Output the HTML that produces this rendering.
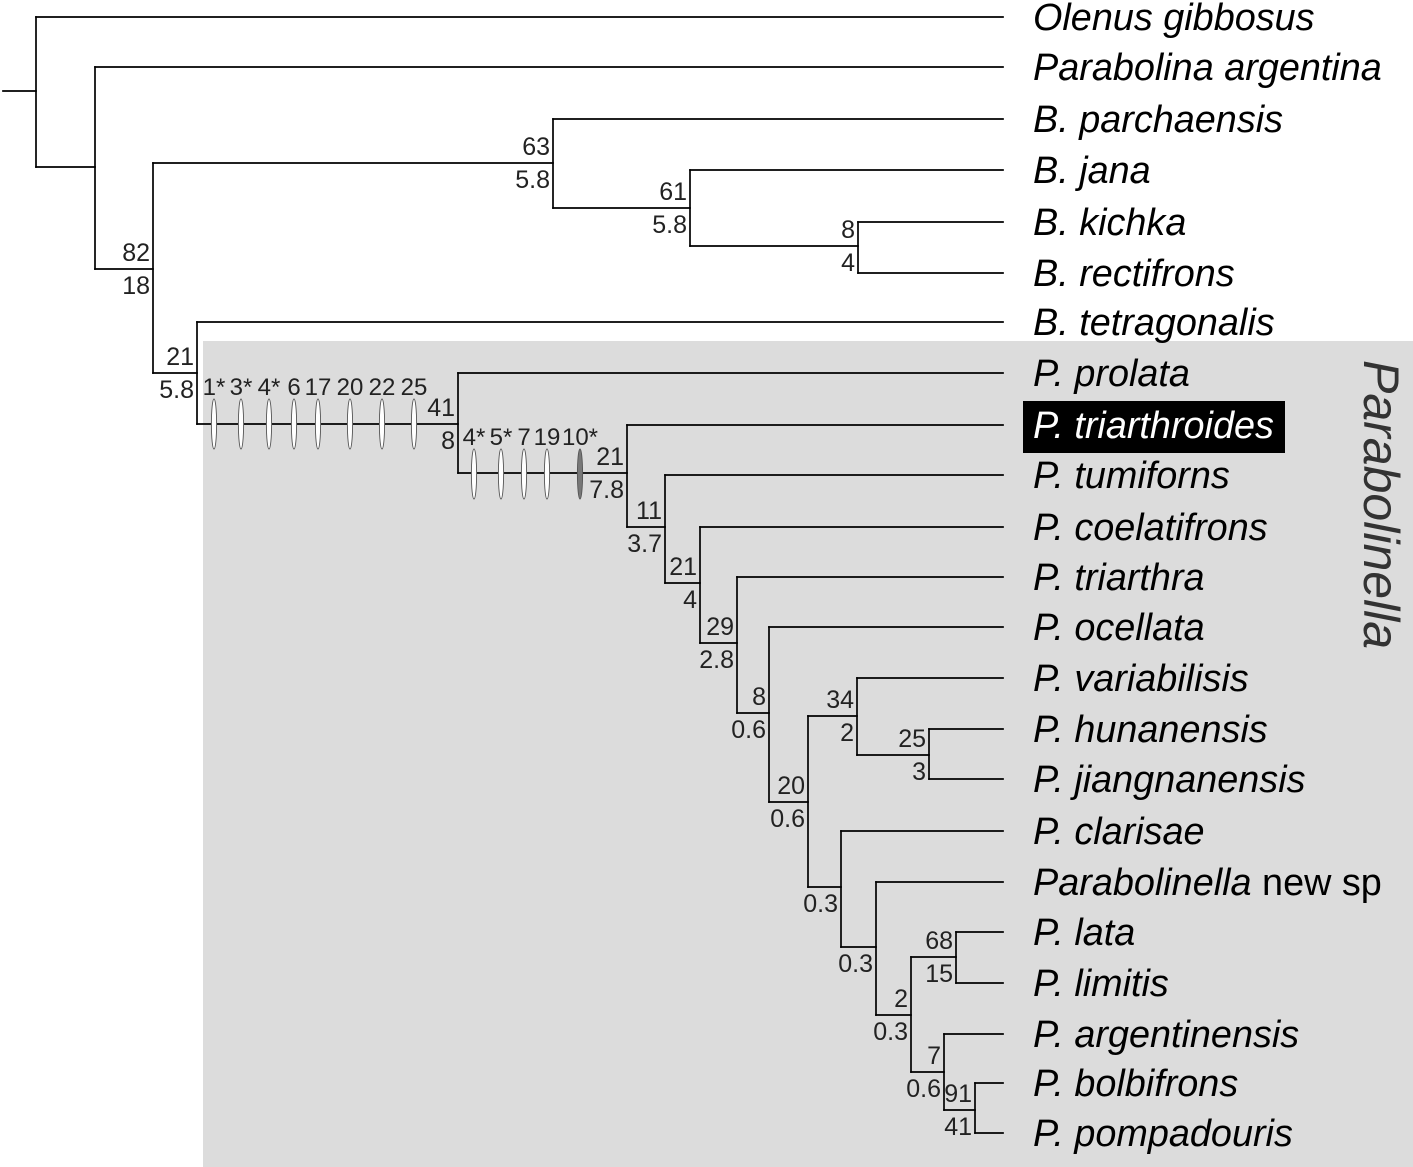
<!DOCTYPE html>
<html><head><meta charset="utf-8"><style>
html,body{margin:0;padding:0;background:#fff;}
svg{display:block;font-family:"Liberation Sans",sans-serif;}
</style></head><body>
<svg id="tree" width="1413" height="1167" viewBox="0 0 1413 1167" xmlns="http://www.w3.org/2000/svg">
<rect x="203" y="341" width="1210" height="826" fill="#dcdcdc"/>
<text transform="translate(1364,360) rotate(90)" font-size="50" font-style="italic" fill="#333">Parabolinella</text>
<rect x="1023" y="401" width="262" height="52" fill="#000"/>
<g id="g"></g>
</svg>
<script>
const leafNames=["Olenus gibbosus","Parabolina argentina","B. parchaensis","B. jana","B. kichka","B. rectifrons","B. tetragonalis","P. prolata","P. triarthroides","P. tumiforns","P. coelatifrons","P. triarthra","P. ocellata","P. variabilisis","P. hunanensis","P. jiangnanensis","P. clarisae","Parabolinella new sp","P. lata","P. limitis","P. argentinensis","P. bolbifrons","P. pompadouris"];
const leafY=[17,67,119,170,222,273,322,373,425,475,527,577,627,678,729,779,831,882,932,983,1034,1083,1133];
// nodes: [x, y-top child, y-bottom child, parent x, own y, upper label, lower label]
const nodes=[
[36,17,167,3,91,"",""],
[95,67,269,36,167,"",""],
[153,163,373,95,269,"82","18"],
[553,119,208,153,163,"63","5.8"],
[690,170,246,553,208,"61","5.8"],
[858,222,273,690,246,"8","4"],
[197,322,424,153,373,"21","5.8"],
[458,373,473,197,424,"41","8"],
[627,425,527,458,473,"21","7.8"],
[665,475,583,627,527,"11","3.7"],
[700,527,643,665,583,"21","4"],
[737,577,713,700,643,"29","2.8"],
[769,627,802,737,713,"8","0.6"],
[808,716,887,769,802,"20","0.6"],
[857,678,755,808,716,"34","2"],
[929,729,779,857,755,"25","3"],
[841,831,947,808,887,"","0.3"],
[876,882,1015,841,947,"","0.3"],
[911,957,1072,876,1015,"2","0.3"],
[956,932,983,911,957,"68","15"],
[944,1034,1110,911,1072,"7","0.6"],
[975,1083,1133,944,1110,"91","41"]
];
const leafParentX=[36,95,553,690,858,858,197,458,627,665,700,737,769,857,929,929,841,876,956,956,944,975,975];
const chars1=["1*","3*","4*","6","17","20","22","25"];
const chars1X=[214,241,269,294,318,350,382,414];
const chars2=["4*","5*","7","19","10*"];
const chars2X=[474,501,524,547,580];
const g=document.getElementById('g');
const NS="http://www.w3.org/2000/svg";
function mk(t,a){const e=document.createElementNS(NS,t);for(const k in a)e.setAttribute(k,a[k]);g.appendChild(e);return e;}
function line(x1,y1,x2,y2){return mk('line',{x1,y1,x2,y2,stroke:'#000','stroke-width':1.7,'stroke-linecap':'square'});}
leafNames.forEach((n,i)=>{
  const l=line(leafParentX[i],leafY[i],1003,leafY[i]);
  
  
  const t=mk('text',{x:1033,y:leafY[i]+13,'font-size':37.8,fill:i==8?'#fff':'#000'});
  
  
  if(n.startsWith("Parabolinella ")){
    const s=document.createElementNS(NS,'tspan');s.setAttribute('font-style','italic');s.textContent="Parabolinella";t.appendChild(s);
    t.appendChild(document.createTextNode(" new sp"));
  } else {t.setAttribute('font-style','italic');t.textContent=n;}
});
nodes.forEach((nd,i)=>{
  const [x,y1,y2,px,y,a,b]=nd;
  const v=line(x,y1,x,y2);
  
  
  const h=line(px,y,x,y);
  
  
  if(a){const t=mk('text',{x:x-3,y:y-8,'font-size':25,'text-anchor':'end',fill:'#222'});t.textContent=a;
    
    }
  if(b){const t=mk('text',{x:x-3,y:y+25,'font-size':25,'text-anchor':'end',fill:'#222'});t.textContent=b;
    
    }
});
function chars(lab,xs,y,filledIdx){
  lab.forEach((c,i)=>{
    const e=mk('ellipse',{cx:xs[i],cy:y,rx:2.6,ry:25,fill:i===filledIdx?'#777':'#fff',stroke:'#555','stroke-width':0.9});
    
    
    const t=mk('text',{x:xs[i],y:y-29,'font-size':24,'text-anchor':'middle',fill:'#222'});t.textContent=c;
    
    
  });
}
chars(chars1,chars1X,424,-1);
chars(chars2,chars2X,474,4);
</script>
</body></html>
